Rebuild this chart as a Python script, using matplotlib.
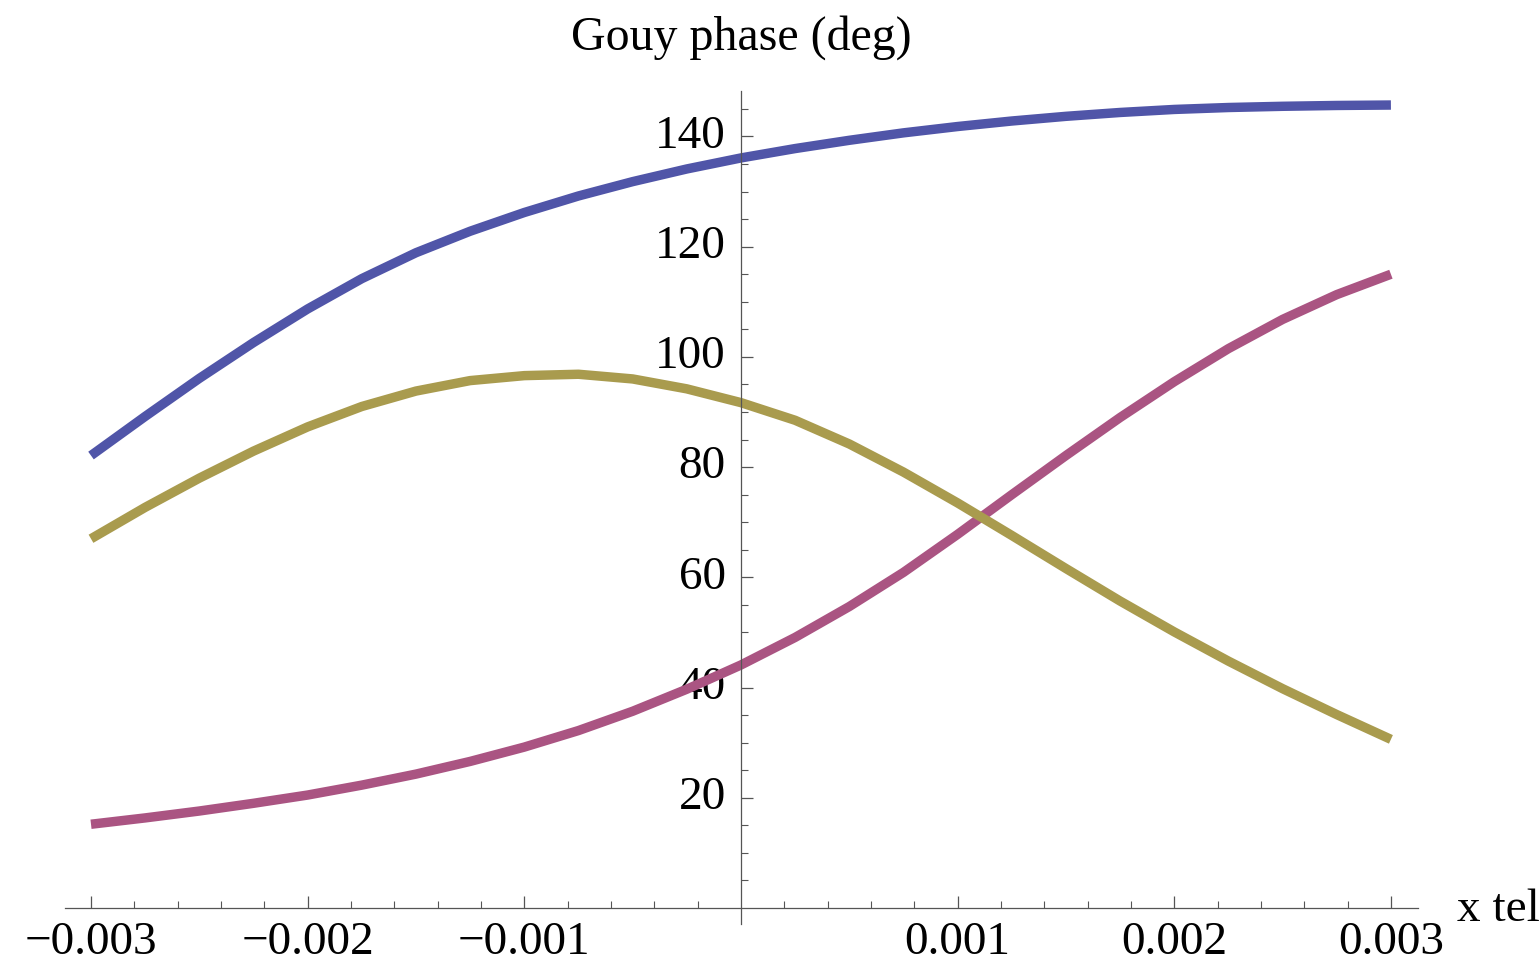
import matplotlib
matplotlib.use("Agg")
import matplotlib.pyplot as plt
from matplotlib.ticker import FixedLocator
from matplotlib.transforms import ScaledTranslation

# ---- data ----
x_tel = [-0.003, -0.00275, -0.0025, -0.00225, -0.002, -0.00175, -0.0015, -0.00125,
         -0.001, -0.00075, -0.0005, -0.00025, 0.0, 0.00025, 0.0005, 0.00075,
         0.001, 0.00125, 0.0015, 0.00175, 0.002, 0.00225, 0.0025, 0.00275, 0.003]

gouy_blue = [82.1, 89.2, 96.1, 102.6, 108.7, 114.2, 118.9, 122.8,
             126.2, 129.2, 131.8, 134.1, 136.1, 137.8, 139.3, 140.65,
             141.8, 142.8, 143.65, 144.35, 144.9, 145.25, 145.47, 145.62, 145.7]

gouy_magenta = [15.2, 16.35, 17.6, 19.0, 20.5, 22.3, 24.3, 26.6,
                29.2, 32.2, 35.7, 39.7, 44.1, 49.1, 54.7, 60.9,
                67.8, 75.0, 82.1, 89.0, 95.5, 101.5, 106.8, 111.3, 115.0]

gouy_olive = [67.0, 72.7, 78.0, 82.9, 87.3, 91.0, 93.8, 95.7,
              96.6, 96.85, 96.0, 94.2, 91.7, 88.5, 84.2, 79.1,
              73.5, 67.6, 61.6, 55.7, 50.1, 44.8, 39.8, 35.1, 30.6]

x_ticks = [-0.003, -0.002, -0.001, 0.001, 0.002, 0.003]
x_tick_labels = ["\u22120.003", "\u22120.002", "\u22120.001", "0.001", "0.002", "0.003"]
y_ticks = [20, 40, 60, 80, 100, 120, 140]
y_tick_labels = ["20", "40", "60", "80", "100", "120", "140"]

series = [gouy_blue, gouy_magenta, gouy_olive]
colors = ["#5055A8", "#AA5482", "#A99B4E"]

# ---- figure ----
plt.rcParams['font.family'] = ['Liberation Serif', 'DejaVu Serif']
W, H = 1539, 962
fig = plt.figure(figsize=(W / 100, H / 100), dpi=100)
left, right, top, bottom = 65, 1418, 91.7, 925
ax = fig.add_axes([left / W, 1 - bottom / H, (right - left) / W, (bottom - top) / H])

for ys, c in zip(series, colors):
    ax.plot(x_tel, ys, color=c, lw=6.8, solid_capstyle='butt', solid_joinstyle='round')

ax.set_xlim(-0.00312, 0.003125)
ax.set_ylim(-2.9, 148.3)

axis_col = "#555555"
for s in ("top", "right"):
    ax.spines[s].set_visible(False)
ax.spines["left"].set_position(("data", 0))
ax.spines["bottom"].set_position(("data", 0))
for s in ("left", "bottom"):
    ax.spines[s].set_color(axis_col)
    ax.spines[s].set_linewidth(0.9)

ax.xaxis.set_major_locator(FixedLocator(x_ticks))
ax.set_xticklabels(x_tick_labels)
ax.xaxis.set_minor_locator(FixedLocator([i * 0.0002 for i in range(-15, 16) if i % 5 != 0]))
ax.yaxis.set_major_locator(FixedLocator(y_ticks))
ax.set_yticklabels(y_tick_labels)
ax.yaxis.set_minor_locator(FixedLocator([v for v in range(5, 150, 5) if v % 20 != 0]))

ax.tick_params(axis='both', which='both', direction='in', colors=axis_col,
               labelcolor='black', labelsize=34)
ax.tick_params(axis='both', which='major', length=8.5, width=0.9)
ax.tick_params(axis='both', which='minor', length=4.8, width=0.8)
ax.tick_params(axis='x', which='major', pad=9)
ax.tick_params(axis='y', which='major', pad=11)

# Mathematica places the y labels slightly above their ticks
for lab in ax.get_yticklabels():
    lab.set_transform(lab.get_transform() + ScaledTranslation(0, 6 / 100, fig.dpi_scale_trans))

fig.text(741 / W, 1 - 50 / H, "Gouy phase (deg)", ha='center', va='baseline', fontsize=34.5)
fig.text(1457 / W, 1 - 921 / H, "x tel", ha='left', va='baseline', fontsize=34)

fig.savefig("out.png", dpi=100, facecolor='white')
